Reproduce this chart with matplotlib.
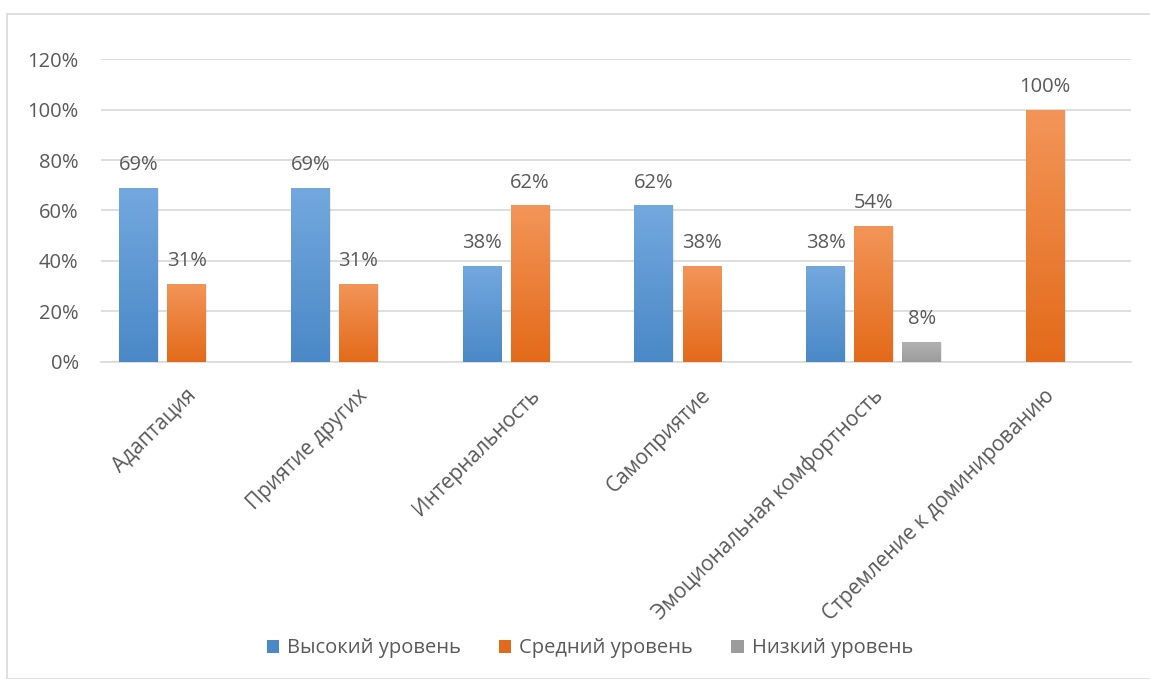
import numpy as np
import matplotlib
matplotlib.use('Agg')
import matplotlib.pyplot as plt
import matplotlib.transforms as mtransforms
from matplotlib.colors import LinearSegmentedColormap
from matplotlib.patches import Rectangle

categories = ['Адаптация', 'Приятие других', 'Интернальность', 'Самоприятие',
              'Эмоциональная комфортность', 'Стремление к доминированию']
high = [0.69, 0.69, 0.38, 0.62, 0.38, 0.0]
mid = [0.31, 0.31, 0.62, 0.38, 0.54, 1.0]
low = [0.0, 0.0, 0.0, 0.0, 0.08, 0.0]
series = ['Высокий уровень', 'Средний уровень', 'Низкий уровень']
values = [high, mid, low]
grads = [('#72a8de', '#4a88c7'), ('#f39558', '#e36a1a'), ('#b2b2b2', '#9c9c9c')]

plt.rcParams['font.family'] = ['Open Sans', 'DejaVu Sans']
txt = '#595959'

fig = plt.figure(figsize=(11.5, 6.79), dpi=100)
fig.patches.append(Rectangle((7 / 1150, 0), 1.0, 1 - 14 / 679, transform=fig.transFigure,
                             fill=False, edgecolor='#d9d9d9', linewidth=1.2))
ax = fig.add_axes([0.0878, 0.467, 0.8957, 0.446])

x = np.arange(len(categories))
width = 0.225
offsets = [-0.28, 0.0, 0.28]

for vals, off, (ctop, cbot), name in zip(values, offsets, grads, series):
    cmap = LinearSegmentedColormap.from_list(name, [cbot, ctop])
    bars = ax.bar(x + off, vals, width, color=ctop, label=name, zorder=3)
    for b, v in zip(bars, vals):
        if v <= 0:
            b.set_visible(False)
            continue
        b.set_facecolor('none')
        x0, w = b.get_x(), b.get_width()
        # soft shadow
        ax.add_patch(Rectangle((x0 + 0.006, -0.004), w, v, facecolor='#000000',
                               alpha=0.08, linewidth=0, zorder=2))
        im = ax.imshow(np.linspace(0, 1, 100).reshape(-1, 1), cmap=cmap, aspect='auto',
                       extent=(x0, x0 + w, 0, v), origin='lower', zorder=3)
        im.set_clip_path(b)
        ax.text(x0 + w / 2, v + 0.05, f'{round(v * 100)}%', ha='center', va='bottom',
                fontsize=14.5, color=txt, zorder=4)

ax.set_xlim(-0.5, len(categories) - 0.5)
ax.set_ylim(0, 1.2)
ax.set_yticks(np.arange(0, 1.21, 0.2))
ax.set_yticklabels([f'{int(round(t * 100))}%' for t in np.arange(0, 1.21, 0.2)])
ax.yaxis.grid(True, color='#d9d9d9', linewidth=1.2, zorder=0)
ax.set_axisbelow(True)
for s in ['top', 'right', 'left']:
    ax.spines[s].set_visible(False)
ax.spines['bottom'].set_color('#d9d9d9')
ax.spines['bottom'].set_linewidth(1.2)
ax.tick_params(axis='both', length=0, labelsize=14.5, colors=txt)
ax.tick_params(axis='y', pad=16)
ax.set_xticks(x)
ax.set_xticklabels(categories, rotation=45, ha='right', va='center',
                   rotation_mode='anchor', fontsize=15)
ax.tick_params(axis='x', pad=22)
shift = mtransforms.ScaledTranslation(0.06, 0, fig.dpi_scale_trans)
for lab in ax.get_xticklabels():
    lab.set_transform(lab.get_transform() + shift)

handles = [Rectangle((0, 0), 1, 1, facecolor=c[1], edgecolor='none') for c in grads]
fig.legend(handles, series, loc='center', bbox_to_anchor=(0.513, 0.045), ncol=3,
           frameon=False, fontsize=14.5, labelcolor=txt, handlelength=0.6,
           handleheight=0.6, handletextpad=0.4, columnspacing=1.9)

fig.savefig('out.png', dpi=100)
